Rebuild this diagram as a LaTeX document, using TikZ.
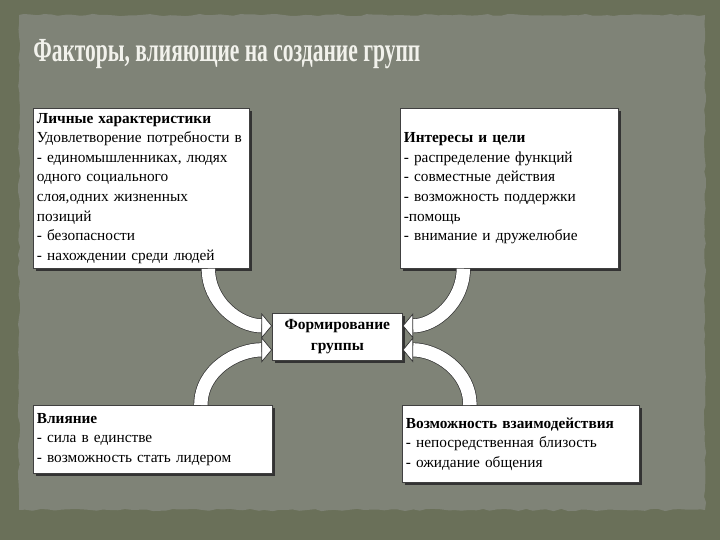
\documentclass[tikz,border=0pt]{standalone}
\usepackage{fontspec}
\setmainfont{Liberation Serif}
\usepackage{graphicx}
\usepackage{tikz}
\usetikzlibrary{arrows.meta,calc,shadows,decorations.pathmorphing}

\definecolor{slate}{HTML}{6A7059}
\definecolor{panel}{HTML}{7F8377}
\definecolor{chalk}{HTML}{F2F2EC}

\tikzset{
  factor/.style={draw=black!75, fill=white, line width=0.5pt, anchor=north west,
    align=left, inner xsep=2.5pt, inner ysep=2pt,
    font=\fontsize{10.9}{13.9}\selectfont,
    drop shadow={shadow xshift=1.6pt, shadow yshift=-1.6pt, fill=black!80, opacity=1}},
  flow/.style={draw=black!80, line width=0.5pt, double=white, double distance=9.5pt,
    -{Triangle[fill=white, length=7.5pt, width=18pt]}}
}

\begin{document}
\begin{tikzpicture}[x=0.025cm,y=-0.025cm]
  \useasboundingbox (0,0) rectangle (720,540);
  % background
  \fill[slate] (0,0) rectangle (720,540);
  \pgfmathsetseed{7}
  \fill[panel, decorate, decoration={random steps, segment length=5pt, amplitude=0.8pt}]
    (19,15) rectangle (705,510);
  % title
  \node[anchor=base west, text=chalk, inner sep=0pt,
    font=\fontsize{20}{24}\selectfont\bfseries] (title) at (33,61)
    {\scalebox{0.765}[1.2]{Факторы, влияющие на создание групп}};

  % factors
  \node[factor, text width=148.6pt, minimum height=113.8pt] (pers) at (33,108)
    {\textbf{Личные характеристики}\\
     Удовлетворение потребности в\\
     - единомышленниках, людях\\
     одного социального\\
     слоя,одних жизненных\\
     позиций\\
     - безопасности\\
     - нахождении среди людей};
  \node[factor, text width=150pt, minimum height=113.8pt] (goal) at (400,108)
    {\textbf{Интересы и цели}\\
     - распределение функций\\
     - совместные действия\\
     - возможность поддержки\\
     -помощь\\
     - внимание и дружелюбие};
  \node[factor, text width=87.4pt, minimum height=33.4pt, align=center,
    font=\fontsize{11}{15}\selectfont\bfseries] (form) at (272,313)
    {Формирование\\ группы};
  \node[factor, text width=165pt, minimum height=48.4pt] (infl) at (33,405)
    {\textbf{Влияние}\\
     - сила в единстве\\
     - возможность стать лидером};
  \node[factor, text width=163.6pt, minimum height=54.8pt] (inter) at (402,405)
    {\textbf{Возможность взаимодействия}\\
     - непосредственная близость\\
     - ожидание общения};

  % arrows into the centre
  \draw[flow] ($(pers.south)+(67,0)$) to[out=-90,in=180] ($(form.west)+(0,-11)$);
  \draw[flow] ($(infl.north)+(48,0)$) to[out=90,in=180] ($(form.west)+(0,13)$);
  \draw[flow] ($(goal.south)+(-46,0)$) to[out=-90,in=0] ($(form.east)+(0,-11)$);
  \draw[flow] ($(inter.north)+(-51,0)$) to[out=90,in=0] ($(form.east)+(0,13)$);
\end{tikzpicture}
\end{document}
